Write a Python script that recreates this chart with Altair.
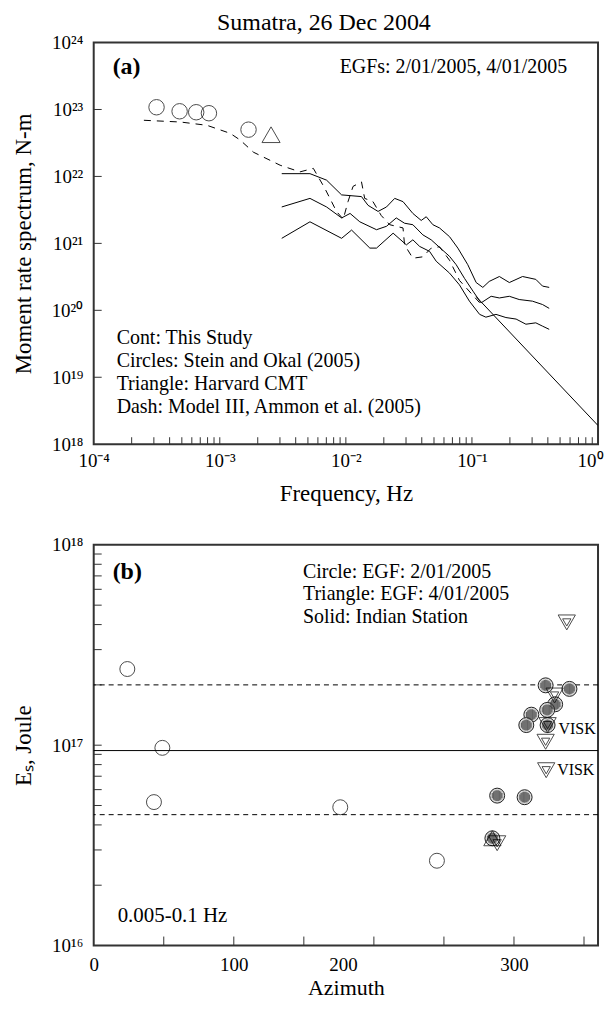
import altair as alt
import pandas as pd

FONT = "Liberation Serif"

# ---------------- Panel (a) data ----------------
cont_hi_f = [3.10e-3, 5.19e-3, 7.03e-3, 9.25e-3, 1.33e-2, 1.50e-2, 1.80e-2, 2.10e-2, 2.44e-2, 2.84e-2,
             3.40e-2, 3.96e-2, 4.34e-2, 4.90e-2, 5.53e-2, 6.64e-2, 7.73e-2, 9.27e-2, 0.108, 0.122,
             0.137, 0.165, 0.198, 0.252, 0.321, 0.363, 0.410]
cont_hi_m = [1.10e22, 1.10e22, 8.8e21, 5.3e21, 5.0e21, 3.7e21, 3.0e21, 3.5e21, 4.7e21, 4.2e21,
             2.8e21, 2.2e21, 2.5e21, 1.9e21, 1.7e21, 1.26e21, 8.5e20, 4.8e20, 2.6e20, 2.2e20,
             2.7e20, 3.2e20, 2.6e20, 3.2e20, 2.9e20, 2.3e20, 2.2e20]

cont_mid_f = [3.10e-3, 5.19e-3, 7.03e-3, 9.25e-3, 1.08e-2, 1.29e-2, 1.75e-2, 2.10e-2, 2.51e-2, 2.92e-2,
              3.40e-2, 4.08e-2, 4.75e-2, 6.64e-2, 7.50e-2, 8.73e-2, 0.102, 0.118, 0.142, 0.165,
              0.198, 0.237, 0.302, 0.363, 0.410]
cont_mid_m = [3.5e21, 4.7e21, 3.5e21, 2.4e21, 2.8e21, 2.1e21, 1.6e21, 1.8e21, 2.4e21, 2.0e21,
              1.9e21, 1.34e21, 1.13e21, 6.4e20, 4.8e20, 3.0e20, 1.93e20, 1.29e20, 1.62e20, 1.53e20,
              1.62e20, 1.45e20, 1.37e20, 1.22e20, 1.07e20]

cont_lo_f = [3.10e-3, 5.19e-3, 9.25e-3, 1.11e-2, 1.55e-2, 1.75e-2, 2.37e-2, 3.02e-2, 3.40e-2, 3.85e-2,
             4.61e-2, 5.21e-2, 6.64e-2, 7.96e-2, 9.55e-2, 0.115, 0.129, 0.155, 0.186, 0.224,
             0.268, 0.321, 0.363, 0.410]
cont_lo_m = [1.19e21, 2.1e21, 1.19e21, 1.58e21, 8.5e20, 8.5e20, 1.42e21, 9.5e20, 1.13e21, 9.0e20,
             7.6e20, 5.4e20, 3.6e20, 2.4e20, 1.37e20, 8.7e19, 7.9e19, 8.7e19, 7.8e19, 7.4e19,
             6.2e19, 6.5e19, 5.8e19, 5.2e19]

dash_f = [2.50e-4, 4.88e-4, 7.92e-4, 1.21e-3, 1.45e-3, 1.85e-3, 3.01e-3, 4.33e-3, 5.52e-3, 6.82e-3,
          8.43e-3, 9.53e-3, 1.04e-2, 1.14e-2, 1.33e-2, 1.41e-2, 1.64e-2, 1.91e-2, 2.23e-2, 2.84e-2,
          2.92e-2, 3.40e-2, 4.08e-2, 4.75e-2, 5.53e-2, 6.64e-2, 7.96e-2, 0.115]
dash_m = [6.9e22, 6.5e22, 5.8e22, 4.4e22, 3.5e22, 2.3e22, 1.47e22, 1.17e22, 1.32e22, 6.6e21,
          3.0e21, 2.3e21, 4.2e21, 7.1e21, 8.3e21, 4.7e21, 4.2e21, 2.6e21, 1.9e21, 1.7e21,
          9.5e20, 6.0e20, 6.3e20, 8.5e20, 8.9e20, 5.6e20, 2.8e20, 1.3e20]

slope_f = [0.108, 1.0]
slope_m = [1.6e20, 1.9e18]

so_f = [3.15e-4, 4.8e-4, 6.5e-4, 8.2e-4, 1.69e-3]
so_m = [1.08e23, 9.4e22, 9.1e22, 8.8e22, 5.0e22]
cmt_f = [2.55e-3]
cmt_m = [4.2e22]

freq_label_vals = [1e-4, 1e-3, 1e-2, 1e-1, 1.0]
mom_label_vals = [1e18, 1e19, 1e20, 1e21, 1e22, 1e23, 1e24]
freq_tick_vals = [m * 10.0 ** k for k in range(-4, 0) for m in range(1, 10)][1:]
mom_tick_vals = [1e19, 1e20, 1e21, 1e22, 1e23]

# ---------------- Panel (b) data ----------------
open_az = [24, 49, 43, 176, 245]
open_es = [2.4e17, 9.7e16, 5.2e16, 4.9e16, 2.65e16]
ind_az = [322.6, 339.6, 329.4, 323.7, 312.4, 308.8, 324.0, 288.0, 307.6, 284.6]
ind_es = [1.99e17, 1.91e17, 1.6e17, 1.5e17, 1.42e17, 1.26e17, 1.26e17, 5.6e16, 5.5e16, 3.43e16]
tri_az = [337.7, 329.0, 324.0, 322.6, 323.0, 288.0]
tri_es = [4.1e17, 1.77e17, 1.26e17, 1.04e17, 7.5e16, 3.24e16]
triup_az = [284.6]
triup_es = [3.43e16]
visk_az = [324.0, 323.0]
visk_es = [1.21e17, 7.5e16]
visk_txt = ["VISK", "VISK"]
mean_es = [9.4e16]
band_es = [2.0e17, 4.5e16]

az_label_vals = [0, 100, 200, 300]
az_tick_vals = [50, 100, 150, 200, 250, 300, 350]
es_label_vals = [1e16, 1e17, 1e18]
es_tick_vals = [m * 10.0 ** k for k in (16, 17) for m in range(1, 10)][1:]

W, H = 506, 403
HB = 402

SUP = {"0": "\u2070", "1": "\u00b9", "2": "\u00b2", "3": "\u00b3", "4": "\u2074", "5": "\u2075",
       "6": "\u2076", "7": "\u2077", "8": "\u2078", "9": "\u2079", "-": "\u207b"}


def sup(n):
    return "".join(SUP[c] for c in str(n))


def pow_expr(exps):
    s = ""
    for e in exps:
        s += f"round(log(datum.value)/LN10) == {e} ? '10{sup(e)}' : "
    return s + "''"


def ax(**kw):
    base = dict(grid=False, domain=False, ticks=False, labelFont=FONT, labelFontSize=19,
                labelColor="black", titleFont=FONT, titleFontSize=23, titleFontWeight="normal",
                titleColor="black", labelFlush=False)
    base.update(kw)
    return alt.Axis(**base)


def text(s, px, py, size=20, align="left", weight="normal", baseline="middle"):
    return alt.Chart(pd.DataFrame({"a": [0]})).mark_text(
        text=s, font=FONT, fontSize=size, align=align, baseline=baseline,
        fontWeight=weight, color="black").encode(x=alt.value(px), y=alt.value(py))


def anchor_box():
    # invisible extent marker: pins the plot origin to the page position
    return alt.Chart(pd.DataFrame({"a": [0]})).mark_rule(opacity=0, strokeWidth=0.1).encode(
        x=alt.value(-85), x2=alt.value(-85), y=alt.value(-32), y2=alt.value(0))


# ---------------- Panel (a) ----------------
xa = alt.X("f:Q", scale=alt.Scale(type="log", domain=[1e-4, 1], nice=False),
           axis=ax(values=freq_label_vals, labelExpr=pow_expr([-4, -3, -2, -1, 0]),
                   labelAlign={"condition": {"test": "datum.value >= 0.9", "value": "right"},
                               "value": "center"},
                   labelOffset={"condition": {"test": "datum.value >= 0.9", "value": 5},
                                "value": 0},
                   labelPadding=7, title="Frequency, Hz", titlePadding=12))
ya = alt.Y("m:Q", scale=alt.Scale(type="log", domain=[1e18, 1e24], nice=False),
           axis=ax(values=mom_label_vals, labelExpr=pow_expr(range(18, 25)),
                   labelPadding=11, title="Moment rate spectrum, N-m",
                   titleX=-70, titleY=H / 2, titleAngle=270, titleAlign="center",
                   titleBaseline="middle"))

rows = []
for name, fs, ms in [("hi", cont_hi_f, cont_hi_m), ("mid", cont_mid_f, cont_mid_m),
                     ("lo", cont_lo_f, cont_lo_m), ("slope", slope_f, slope_m)]:
    for i, (f, m) in enumerate(zip(fs, ms)):
        rows.append({"series": name, "i": i, "f": f, "m": m})
solid_df = pd.DataFrame(rows)
dash_df = pd.DataFrame({"series": "dash", "i": range(len(dash_f)), "f": dash_f, "m": dash_m})

solid = alt.Chart(solid_df).mark_line(color="black", strokeWidth=1, clip=True).encode(
    x=xa, y=ya, detail="series:N", order="i:Q")
dashed = alt.Chart(dash_df).mark_line(color="black", strokeWidth=1, strokeDash=[7, 6], clip=True).encode(
    x=xa, y=ya, order="i:Q")
circ_a = alt.Chart(pd.DataFrame({"f": so_f, "m": so_m})).mark_point(
    shape="circle", size=240, color="black", strokeWidth=1, filled=False).encode(x=xa, y=ya)
tri_a = alt.Chart(pd.DataFrame({"f": cmt_f, "m": cmt_m})).mark_point(
    shape="triangle-up", size=330, color="black", strokeWidth=1, filled=False).encode(x=xa, y=ya)
xt_a = alt.Chart(pd.DataFrame({"f": freq_tick_vals})).mark_rule(color="#333", strokeWidth=1).encode(
    x=xa, y=alt.value(H), y2=alt.value(H - 7))
yt_a = alt.Chart(pd.DataFrame({"m": mom_tick_vals})).mark_rule(color="#333", strokeWidth=1).encode(
    y=ya, x=alt.value(0), x2=alt.value(8))

panel_a = alt.layer(
    anchor_box(), xt_a, yt_a, dashed, solid, circ_a, tri_a,
    text("Sumatra, 26 Dec 2004", 231, -13, size=24, align="center", baseline="alphabetic"),
    text("(a)", 19, 25, size=24, weight="bold"),
    text("EGFs: 2/01/2005, 4/01/2005", 475, 25, align="right"),
    text("Cont: This Study", 23, 296),
    text("Circles: Stein and Okal (2005)", 23, 320),
    text("Triangle: Harvard CMT", 23, 343),
    text("Dash: Model III, Ammon et al. (2005)", 23, 366),
).properties(width=W, height=H)

# ---------------- Panel (b) ----------------
xb = alt.X("az:Q", scale=alt.Scale(domain=[0, 360], nice=False),
           axis=ax(values=az_label_vals, format="d", labelPadding=10,
                   labelOffset={"condition": {"test": "datum.value == 200", "value": -31}, "value": 0},
                   title="Azimuth", titleFontSize=22, titlePadding=3))
yb = alt.Y("es:Q", scale=alt.Scale(type="log", domain=[1e16, 1e18], nice=False),
           axis=ax(values=es_label_vals, labelExpr=pow_expr([16, 17, 18]),
                   labelPadding=11, title="E\u209b, Joule",
                   titleX=-70, titleY=HB / 2, titleAngle=270, titleAlign="center",
                   titleBaseline="middle"))

hatch_parts = []
for k in range(-4, 5):
    x = k * 0.22
    h = (1 - x * x) ** 0.5
    hatch_parts.append(f"M {x:.3f} {-h:.3f} L {x:.3f} {h:.3f}")
HATCH = " ".join(hatch_parts)

mean_l = alt.Chart(pd.DataFrame({"es": mean_es})).mark_rule(color="black", strokeWidth=1).encode(y=yb)
band_l = alt.Chart(pd.DataFrame({"es": band_es})).mark_rule(
    color="black", strokeWidth=1, strokeDash=[5, 4]).encode(y=yb)
open_c = alt.Chart(pd.DataFrame({"az": open_az, "es": open_es})).mark_point(
    shape="circle", size=225, color="black", strokeWidth=1, filled=False).encode(x=xb, y=yb)
ind_df = pd.DataFrame({"az": ind_az, "es": ind_es})
ind_c = alt.Chart(ind_df).mark_point(
    shape="circle", size=225, fill="#d8d8d8", fillOpacity=1, stroke="#222", strokeWidth=1).encode(x=xb, y=yb)
ind_h = alt.Chart(ind_df).mark_point(
    shape=HATCH, size=121, stroke="#333", strokeWidth=1.1, filled=False).encode(x=xb, y=yb)
tri_df = pd.DataFrame({"az": tri_az, "es": tri_es})
tri_o = alt.Chart(tri_df).mark_point(
    shape="triangle-down", size=300, color="black", strokeWidth=1, filled=False).encode(x=xb, y=yb)
tri_i = alt.Chart(tri_df).mark_point(
    shape="triangle-down", size=70, color="black", strokeWidth=1, filled=False).encode(x=xb, y=yb)
triup = alt.Chart(pd.DataFrame({"az": triup_az, "es": triup_es})).mark_point(
    shape="triangle-up", size=300, color="black", strokeWidth=1, filled=False).encode(x=xb, y=yb)
visk = alt.Chart(pd.DataFrame({"az": visk_az, "es": visk_es, "t": visk_txt})).mark_text(
    font=FONT, fontSize=16, align="left", baseline="middle", dx=11, color="black").encode(
    x=xb, y=yb, text="t:N")
xt_b = alt.Chart(pd.DataFrame({"az": az_tick_vals})).mark_rule(color="#333", strokeWidth=1).encode(
    x=xb, y=alt.value(HB), y2=alt.value(HB - 9))
yt_b = alt.Chart(pd.DataFrame({"es": es_tick_vals})).mark_rule(color="#333", strokeWidth=1).encode(
    y=yb, x=alt.value(0), x2=alt.value(8))

panel_b = alt.layer(
    xt_b, yt_b, band_l, mean_l, open_c, ind_c, ind_h, tri_o, tri_i, triup, visk,
    text("(b)", 19, 27, size=24, weight="bold"),
    text("Circle: EGF: 2/01/2005", 210, 27),
    text("Triangle: EGF: 4/01/2005", 210, 49),
    text("Solid: Indian Station", 210, 72),
    text("0.005-0.1 Hz", 24, 372, size=21),
).properties(width=W, height=HB)

chart = alt.vconcat(
    panel_a, panel_b, spacing=101, bounds="flush",
).properties(
    padding={"left": 0, "top": 0, "right": 0, "bottom": 0}
).configure_view(stroke="#333", strokeWidth=2)

chart.save("out.html", embed_options={"renderer": "svg", "actions": False})
